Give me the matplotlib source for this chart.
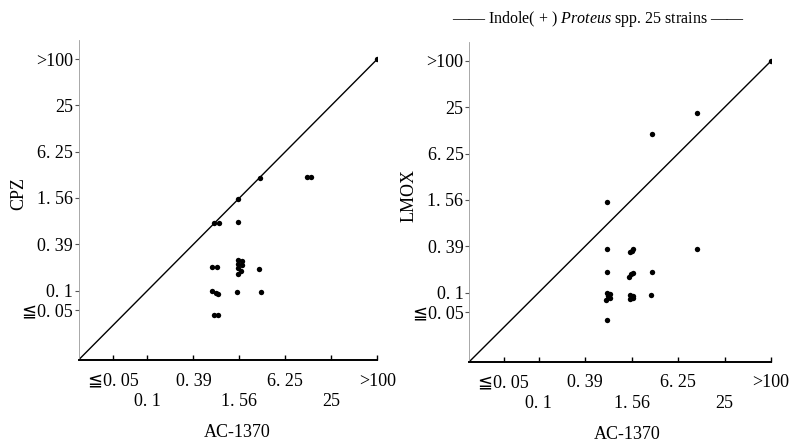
import matplotlib
matplotlib.use("Agg")
import matplotlib.pyplot as plt

plt.rcParams['font.family'] = ['Liberation Serif', 'DejaVu Serif', 'DejaVu Sans']
plt.rcParams['mathtext.fontset'] = 'custom'
plt.rcParams['mathtext.rm'] = 'Liberation Serif'
plt.rcParams['mathtext.it'] = 'Liberation Serif:italic'

# MIC values plotted in dilution steps (0 = <=0.05, 1 = 0.1, ... 11 = >100),
# read off the picture; overlapping strains are drawn side by side
cpz_x = [11, 5.9, 4.95, 3.9, 4.1, 4.95, 7.95, 8.1, 3.82, 4.01,
         4.95, 5.1, 4.95, 5.1, 4.95, 5.05, 4.95,
         5.86, 3.82, 3.97, 4.05, 4.91, 5.93, 3.91, 4.08]
cpz_y = [11, 5.86, 4.95, 3.92, 3.92, 3.96, 5.9, 5.9, 2.0, 2.0,
         2.3, 2.28, 2.15, 2.1, 1.98, 1.85, 1.7,
         1.93, 0.99, 0.88, 0.85, 0.95, 0.95, -0.06, -0.06]

lmox_x = [11, 7.83, 5.86, 3.93, 3.95, 7.83,
          4.95, 5.08, 5.0,
          3.93, 4.9, 5.05, 4.97, 5.86,
          3.93, 4.08, 3.88, 4.05, 3.98,
          4.93, 5.08, 4.93, 5.08,
          5.83, 3.93]
lmox_y = [11, 8.75, 7.85, 4.92, 2.88, 2.88,
          2.75, 2.87, 2.8,
          1.87, 1.69, 1.86, 1.78, 1.87,
          0.97, 0.92, 0.68, 0.76, 0.85,
          0.89, 0.87, 0.72, 0.75,
          0.9, -0.2]

x_row1_pos = [-0.5, 3, 7, 11]
x_row1_lab = ['≦0. 05', '0. 39', '6. 25', '>100']
x_row2_pos = [1, 5, 9]
x_row2_lab = ['0. 1', '1. 56', '25']
y_pos = [0.15, 1, 3, 5, 7, 9, 11]
y_lab = ['≦0. 05', '0. 1', '0. 39', '1. 56', '6. 25', '25', '>100']

fig = plt.figure(figsize=(7.89, 4.42), dpi=100)
ax1 = fig.add_axes([0.0995, 0.1855, 0.3788, 0.7229])
ax2 = fig.add_axes([0.5944, 0.181, 0.3828, 0.7229])

for ax, xs, ys, name, lab_x in [(ax1, cpz_x, cpz_y, 'CPZ', 0.531),
                                (ax2, lmox_x, lmox_y, 'LMOX', 0.523)]:
    ax.plot([-2, 11], [-2, 11], color='black', lw=1.0)
    ax.scatter(xs, ys, s=15, color='black', zorder=3, linewidths=0)
    ax.set_xlim(-2, 11)
    ax.set_ylim(-2, 11.8)
    ax.spines['top'].set_visible(False)
    ax.spines['right'].set_visible(False)
    ax.spines['left'].set_color('#9a9a9a')
    ax.spines['left'].set_linewidth(0.6)
    ax.spines['bottom'].set_linewidth(1.4)
    ax.set_xticks(x_row1_pos)
    ax.set_xticklabels(x_row1_lab)
    ax.set_xticks(x_row2_pos, minor=True)
    ax.set_xticklabels(x_row2_lab, minor=True)
    ax.tick_params(axis='x', which='both', direction='in', length=3.5,
                   width=1.0, labelsize=13)
    ax.tick_params(axis='x', which='major', pad=9)
    ax.tick_params(axis='x', which='minor', pad=24)
    ax.set_yticks(y_pos)
    ax.set_yticklabels(y_lab)
    ax.tick_params(axis='y', direction='out', length=3, width=0.8,
                   color='#555555', labelsize=13, pad=1)
    ax.set_xlabel('AC-1370', fontsize=13)
    ax.xaxis.set_label_coords(lab_x, -0.2)
    ax.set_ylabel(name, fontsize=13)
    ax.yaxis.set_label_coords(-0.172, 0.52)

fig.text(0.758, 0.958, r'—— Indole( + ) $\it{Proteus}$ spp. 25 strains ——',
         ha='center', va='center', fontsize=11.5)

fig.savefig('out.png', dpi=100)
